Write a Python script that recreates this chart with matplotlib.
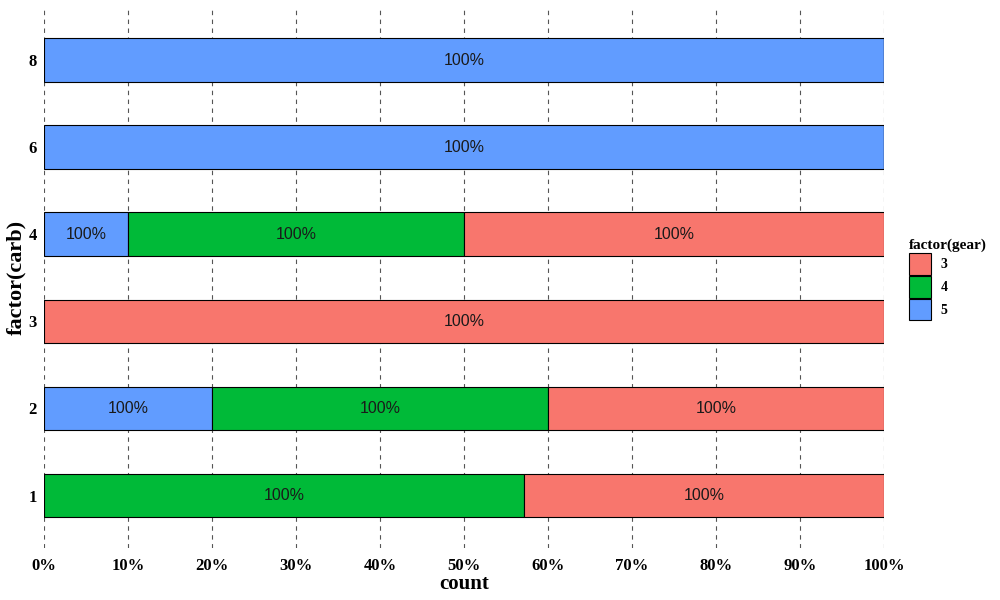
import numpy as np
import matplotlib.pyplot as plt
from matplotlib.patches import Patch

carb = ['1', '2', '3', '4', '6', '8']
gears = ['5', '4', '3']  # stacked left to right
share = {
    '5': [0.0, 0.2, 0.0, 0.1, 1.0, 1.0],
    '4': [4 / 7, 0.4, 0.0, 0.4, 0.0, 0.0],
    '3': [3 / 7, 0.4, 1.0, 0.5, 0.0, 0.0],
}
colors = {'3': '#F8766D', '4': '#00BA38', '5': '#619CFF'}
xticks = np.arange(0, 1.01, 0.1)
xlabels = [f"{int(round(v * 100))}%" for v in xticks]

serif = ['Liberation Serif', 'DejaVu Serif']

fig = plt.figure(figsize=(10, 6), dpi=100)
ax = fig.add_axes([0.044, 0.087, 0.84, 0.90])

y = np.arange(len(carb))
left = np.zeros(len(carb))
for g in gears:
    vals = np.array(share[g])
    ax.barh(y, vals, left=left, height=0.5, color=colors[g],
            edgecolor='black', linewidth=0.8, zorder=3)
    for i, v in enumerate(vals):
        if v > 0:
            ax.text(left[i] + v / 2, y[i], '100%', ha='center', va='center',
                    fontsize=11.5, family=['Liberation Sans', 'DejaVu Sans'],
                    color='#1a1a1a', zorder=4)
    left += vals

ax.set_xlim(0, 1)
ax.set_ylim(-0.6, 5.6)
ax.set_yticks(y)
ax.set_yticklabels(carb)
ax.set_xticks(xticks)
ax.set_xticklabels(xlabels)
for lab in ax.get_xticklabels() + ax.get_yticklabels():
    lab.set_family(serif)
    lab.set_fontweight('bold')
    lab.set_fontsize(12)
ax.tick_params(axis='x', length=0, pad=7)
ax.tick_params(axis='y', length=0, pad=5)
ax.grid(axis='x', linestyle=(0, (4, 4)), color='#555555', linewidth=0.8, zorder=0)
ax.grid(axis='y', visible=False)
for s in ax.spines.values():
    s.set_visible(False)

ax.set_xlabel('count', family=serif, fontweight='bold', fontsize=15, labelpad=0)
ax.set_ylabel('factor(carb)', family=serif, fontweight='bold', fontsize=16, labelpad=2)

handles = [Patch(facecolor=colors[g], edgecolor='black', linewidth=0.8, label=g)
           for g in ['3', '4', '5']]
leg = fig.legend(handles=handles, title='factor(gear)', loc='upper left',
                 bbox_to_anchor=(0.903, 0.612), frameon=False,
                 prop={'family': serif, 'weight': 'bold', 'size': 10},
                 handlelength=1.6, handleheight=2.0, handletextpad=0.7,
                 labelspacing=0.1, borderaxespad=0)
leg.get_title().set_fontproperties({'family': serif, 'weight': 'bold', 'size': 11})
leg._legend_box.align = 'left'

fig.savefig('out.png', dpi=100)
